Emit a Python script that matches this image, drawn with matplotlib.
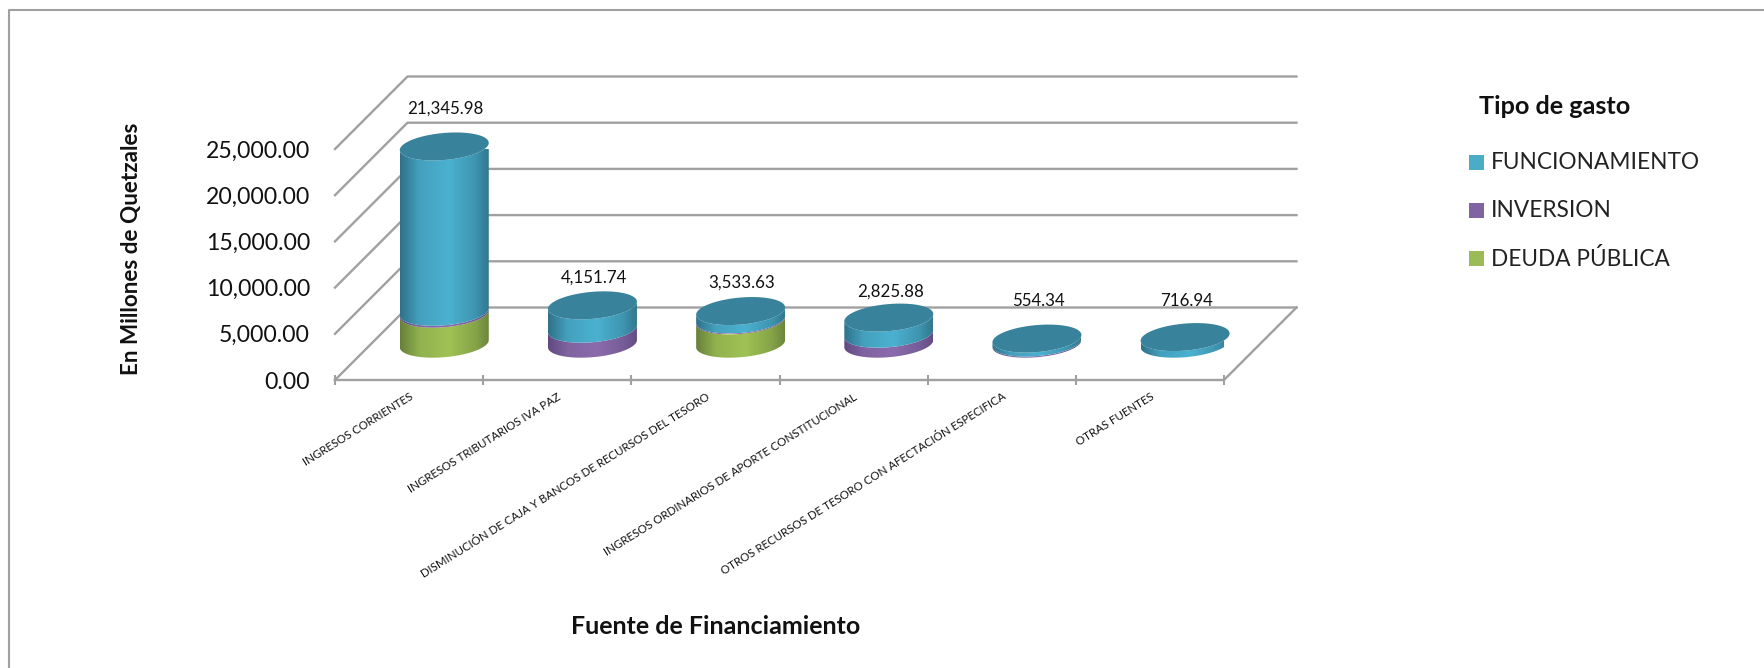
import numpy as np
from matplotlib import pyplot as plt
from matplotlib.colors import LinearSegmentedColormap
from matplotlib.patches import PathPatch, Rectangle
from matplotlib.path import Path

W, H = 1765, 668

categories = ['INGRESOS CORRIENTES',
              'INGRESOS TRIBUTARIOS IVA PAZ',
              'DISMINUCIÓN DE CAJA Y BANCOS DE RECURSOS DEL TESORO',
              'INGRESOS ORDINARIOS DE APORTE CONSTITUCIONAL',
              'OTROS RECURSOS DE TESORO CON AFECTACIÓN ESPECIFICA',
              'OTRAS FUENTES']
deuda = [3250, 0, 2525, 0, 0, 0]
inversion = [200, 1620, 100, 1080, 120, 0]
totals = [21345.98, 4151.74, 3533.63, 2825.88, 554.34, 716.94]
funcionamiento = [t - d - i for t, d, i in zip(totals, deuda, inversion)]
yticks = [0, 5000, 10000, 15000, 20000, 25000]

plt.rcParams['font.family'] = ['Lato', 'DejaVu Sans']
GRID = '#a0a0a0'

fig = plt.figure(figsize=(W / 100, H / 100), dpi=100)
# plot area is the front face of the 3d box, the rest hangs out of it
ax = fig.add_axes([335 / W, 1 - 380 / H, 889 / W, 231 / H])
for s in ax.spines.values():
    s.set_visible(False)
ax.patch.set_visible(False)

# depth of the box in data units
dx = 72.5 / 148.2
dy = 72.5 / 46.2 * 5000

# walls
for v in yticks:
    ax.plot([0, dx, 6 + dx], [v, v + dy, v + dy], color=GRID, lw=1.7, clip_on=False, zorder=1)
ax.plot([0, 6, 6 + dx], [0, 0, dy], color=GRID, lw=1.7, clip_on=False, zorder=1)

# cylinder shape, radii in data units
rx = 44.5 / 148.2
ry = 14 / 46.2 * 5000
phi = np.radians(15)
base_y = 36.3 / 46.2 * 5000  # centre of the cylinder base over the front edge
# gap from the top of each cylinder to its label, in pixels
label_gap = [38, 28, 28, 25.6, 37.6, 36]


def ellipse(cx, cy, t):
    return cx + rx * np.cos(t), cy + ry * np.sin(t + phi)


def draw_segment(cx, y0, y1, c_edge, c_mid, z):
    # lower arcs only, running from the right side to the left side
    t = np.linspace(0, -np.pi, 80)
    xa, ya = ellipse(cx, y1, t)
    xb, yb = ellipse(cx, y0, t[::-1])
    verts = np.column_stack([np.r_[xa, xb], np.r_[ya, yb]])
    grad = np.interp(np.linspace(0, 1, 256), [0, 0.22, 0.55, 0.85, 1], [0, 0.75, 1, 0.55, 0.1])
    cmap = LinearSegmentedColormap.from_list('c', [c_edge, c_mid])
    patch = PathPatch(Path(np.vstack([verts, verts[0]])), transform=ax.transData,
                      fc='none', ec='none')
    ax.add_patch(patch)
    im = ax.imshow(grad[None, :], cmap=cmap, vmin=0, vmax=1, aspect='auto', zorder=z,
                   extent=[cx - rx, cx + rx, verts[:, 1].min(), verts[:, 1].max()])
    im.set_clip_path(patch)


colors = {'deuda': ('#66803a', '#a0c254'),
          'inversion': ('#5f4a80', '#8b6bac'),
          'func': ('#2f7188', '#4bb1d0')}

for i in range(6):
    cx = i + 0.5 + dx / 2 - 0.007
    bottom = base_y
    z = 3 + i
    for name, vals in (('deuda', deuda), ('inversion', inversion), ('func', funcionamiento)):
        v = vals[i]
        if v > 0:
            draw_segment(cx, bottom, bottom + v, colors[name][0], colors[name][1], z)
            bottom += v
    tt = np.linspace(0, 2 * np.pi, 120)
    xt, yt = ellipse(cx, bottom, tt)
    ax.fill(xt, yt, color='#38839b', lw=0, zorder=z + 0.5, clip_on=False)
    ax.text(cx + 0.01, bottom + label_gap[i] / 46.2 * 5000, f'{totals[i]:,.2f}', fontsize=12.2,
            ha='center', va='center', color='#111111', zorder=20)

ax.set_xlim(0, 6)
ax.set_ylim(0, 25000)

ax.set_yticks(yticks)
ax.set_yticklabels([f'{v:,.2f}' for v in yticks], fontsize=16.6, color='#111111')
ax.tick_params(axis='y', length=0, pad=18)
ax.set_xticks(range(7))
ax.set_xticklabels([])
ax.tick_params(axis='x', which='major', direction='inout', length=7, width=1.5, color=GRID)
ax.set_xticks(np.arange(6) + 0.5, minor=True)
ax.tick_params(axis='x', which='minor', length=0, pad=8)
ax.set_xticklabels(categories, minor=True, fontsize=8.25, rotation=32, ha='right',
                   rotation_mode='anchor', color='#111111')

# chart frame
fig.add_artist(plt.Line2D([9 / W, 9 / W, 1], [0, 1 - 9.5 / H, 1 - 9.5 / H], color='#a0a0a0', lw=1.5))

fig.text(132 / W, 1 - 249 / H, 'En Millones de Quetzales', rotation=90, fontsize=16.2,
         fontweight='bold', ha='center', va='center', color='#111111')
fig.text(716 / W, 1 - 626 / H, 'Fuente de Financiamiento', fontsize=18, fontweight='bold',
         ha='center', va='center', color='#111111')

# legend
fig.text(1479 / W, 1 - 107 / H, 'Tipo de gasto', fontsize=18.2, fontweight='bold', va='center',
         color='#111111')
for label, col, y in (('FUNCIONAMIENTO', '#4bacc6', 162), ('INVERSION', '#8064a2', 210),
                      ('DEUDA PÚBLICA', '#9bbb59', 258)):
    fig.add_artist(Rectangle((1469 / W, 1 - (y + 7.5) / H), 15 / W, 15 / H, fc=col, ec='none',
                             transform=fig.transFigure))
    fig.text(1491 / W, 1 - (y + 0.5) / H, label, fontsize=16.3, va='center', color='#222222')

fig.savefig('out.png', dpi=100)
